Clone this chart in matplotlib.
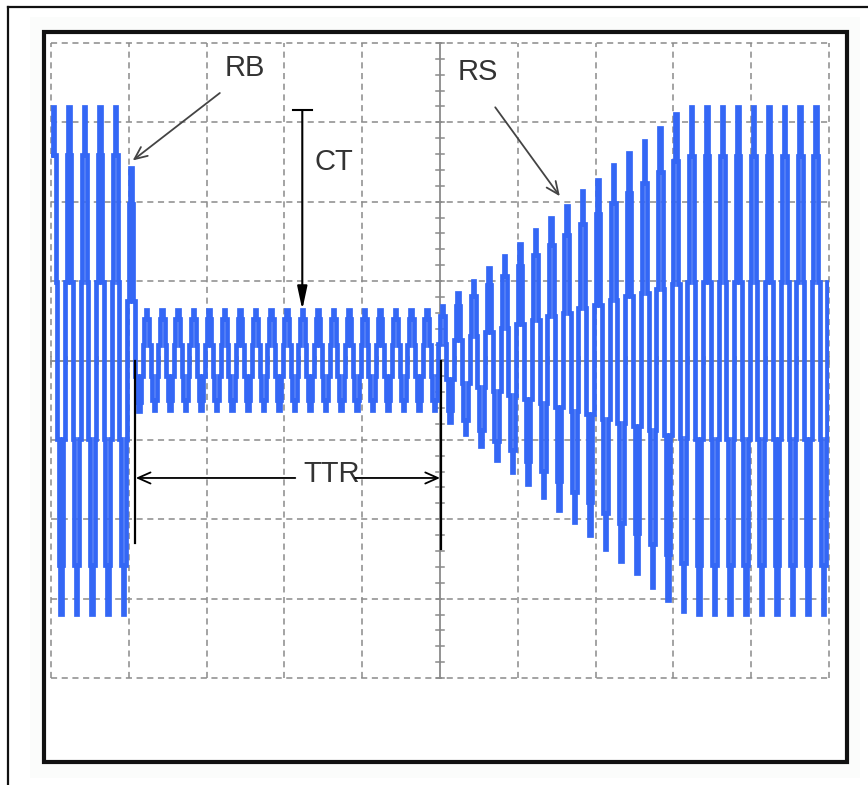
import numpy as np
import matplotlib
matplotlib.use('Agg')
import matplotlib.pyplot as plt
from matplotlib.patches import Rectangle
from matplotlib.lines import Line2D

# % Scope trace data (screen divisions)
# one positive / negative peak per cycle, 5 cycles per division, 50 cycles on screen
cycle_period = 0.2
first_peak = 0.03
samples_per_cycle = 10

pos_peaks = [3.20, 3.20, 3.20, 3.20, 3.20,
             2.43,
             0.64, 0.64, 0.64, 0.64, 0.64, 0.64, 0.64, 0.64, 0.64, 0.64,
             0.64, 0.64, 0.64, 0.64, 0.64, 0.64, 0.64, 0.64, 0.64,
             0.69, 0.85, 1.00, 1.17, 1.32, 1.47, 1.65, 1.80, 1.95, 2.13,
             2.28, 2.46, 2.61, 2.76, 2.93, 3.10, 3.19,
             3.19, 3.19, 3.19, 3.19, 3.19, 3.19, 3.19, 3.19]

neg_peaks = [3.19, 3.19, 3.19, 3.19, 3.19,
             0.64,
             0.62, 0.62, 0.62, 0.62, 0.62, 0.62, 0.62, 0.62, 0.62, 0.62,
             0.62, 0.62, 0.62, 0.62, 0.62, 0.62, 0.62, 0.62, 0.62,
             0.77, 0.93, 1.08, 1.25, 1.40, 1.56, 1.72, 1.88, 2.04, 2.20,
             2.37, 2.53, 2.68, 2.85, 3.02, 3.15, 3.19,
             3.19, 3.19, 3.19, 3.19, 3.19, 3.19, 3.19, 3.19]

labels = ['RB', 'CT', 'TTR', 'RS']

# sampled (stepped) trace
t = np.arange(first_peak - cycle_period / samples_per_cycle, 10.0, cycle_period / samples_per_cycle)
ph = (t - first_peak) / cycle_period
c = np.cos(2 * np.pi * ph)
k_pos = np.clip(np.round(ph).astype(int), 0, len(pos_peaks) - 1)
k_neg = np.clip(np.floor(ph).astype(int), 0, len(neg_peaks) - 1)
amp = np.where(c >= 0, np.array(pos_peaks)[k_pos], np.array(neg_peaks)[k_neg])
trace = amp * c

# %% Plotting

W, H = 868, 785
fig = plt.figure(figsize=(W / 100, H / 100), dpi=100)
fig.patch.set_facecolor('white')

def fx(px):
    return px / W

def fy(py):
    return 1 - py / H

# frames
fig.add_artist(Rectangle((fx(30), fy(778)), fx(860) - fx(30), fy(17) - fy(778),
                         facecolor='#fbfcfb', edgecolor='none', zorder=0))
fig.add_artist(Line2D([fx(8), fx(8)], [fy(7), fy(790)], color='#111111', lw=1.6, zorder=1))
fig.add_artist(Line2D([fx(8), fx(870)], [fy(7), fy(7)], color='#111111', lw=1.6, zorder=1))
fig.add_artist(Rectangle((fx(44), fy(762)), fx(847) - fx(44), fy(32) - fy(762),
                         facecolor='white', edgecolor='#111111', lw=3.0, zorder=1))

ax = fig.add_axes([fx(51), fy(678), fx(829) - fx(51), fy(43) - fy(678)])
ax.set_zorder(2)
ax.set_xlim(0, 10)
ax.set_ylim(-4, 4)
ax.axis('off')

grid_col = '#8a8a8a'
for xv in range(11):
    if xv != 5:
        ax.plot([xv, xv], [-4, 4], color=grid_col, lw=1.1, ls=(0, (4, 3)), clip_on=False, zorder=1)
for yv in range(-4, 5):
    if yv != 0:
        ax.plot([0, 10], [yv, yv], color=grid_col, lw=1.1, ls=(0, (4, 3)), clip_on=False, zorder=1)

# centre axes with minor ticks
ax.plot([5, 5], [-4, 4], color=grid_col, lw=1.3, clip_on=False, zorder=1)
ax.plot([0, 10], [0, 0], color=grid_col, lw=1.3, clip_on=False, zorder=1)
for xt in np.arange(0, 10.01, 0.2):
    ax.plot([xt, xt], [-0.045, 0.045], color=grid_col, lw=1.1, clip_on=False, zorder=1)
for yt in np.arange(-4, 4.01, 0.2):
    ax.plot([4.955, 5.045], [yt, yt], color=grid_col, lw=1.1, clip_on=False, zorder=1)

# the trace
ax.plot(t, trace, color='#3467f5', lw=3.4, drawstyle='steps-mid', solid_joinstyle='miter', zorder=3)

# annotations
txt_col = '#333333'
font = dict(fontsize=21, color=txt_col, family='Liberation Sans', ha='center', va='center', zorder=6)
open_head = '->,head_length=0.45,head_width=0.2'

ax.text(2.49, 3.68, labels[0], **font)
ax.annotate('', xy=(1.05, 2.52), xytext=(2.17, 3.37),
            arrowprops=dict(arrowstyle=open_head, color='#444444', lw=1.3, mutation_scale=20,
                            shrinkA=0, shrinkB=0), zorder=6)

ax.text(5.48, 3.64, labels[3], **font)
ax.annotate('', xy=(6.54, 2.07), xytext=(5.71, 3.19),
            arrowprops=dict(arrowstyle=open_head, color='#444444', lw=1.3, mutation_scale=20,
                            shrinkA=0, shrinkB=0), zorder=6)

ax.text(3.63, 2.50, labels[1], **font)
ax.plot([3.11, 3.35], [3.15, 3.15], color='black', lw=1.5, zorder=6)
ax.annotate('', xy=(3.23, 0.64), xytext=(3.23, 3.15),
            arrowprops=dict(arrowstyle='-|>,head_length=0.7,head_width=0.15', color='black', lw=1.5,
                            mutation_scale=20, shrinkA=0, shrinkB=0), zorder=6)

ax.text(3.61, -1.43, labels[2], **font)
ax.plot([1.08, 1.08], [0.0, -2.30], color='black', lw=1.6, zorder=6)
ax.plot([5.01, 5.01], [0.0, -2.37], color='black', lw=1.6, zorder=6)
ax.annotate('', xy=(1.09, -1.48), xytext=(3.14, -1.48),
            arrowprops=dict(arrowstyle=open_head, color='black', lw=1.3, mutation_scale=20,
                            shrinkA=0, shrinkB=0), zorder=6)
ax.annotate('', xy=(5.0, -1.48), xytext=(3.91, -1.48),
            arrowprops=dict(arrowstyle=open_head, color='black', lw=1.3, mutation_scale=20,
                            shrinkA=0, shrinkB=0), zorder=6)

fig.savefig('out.png', dpi=100)
